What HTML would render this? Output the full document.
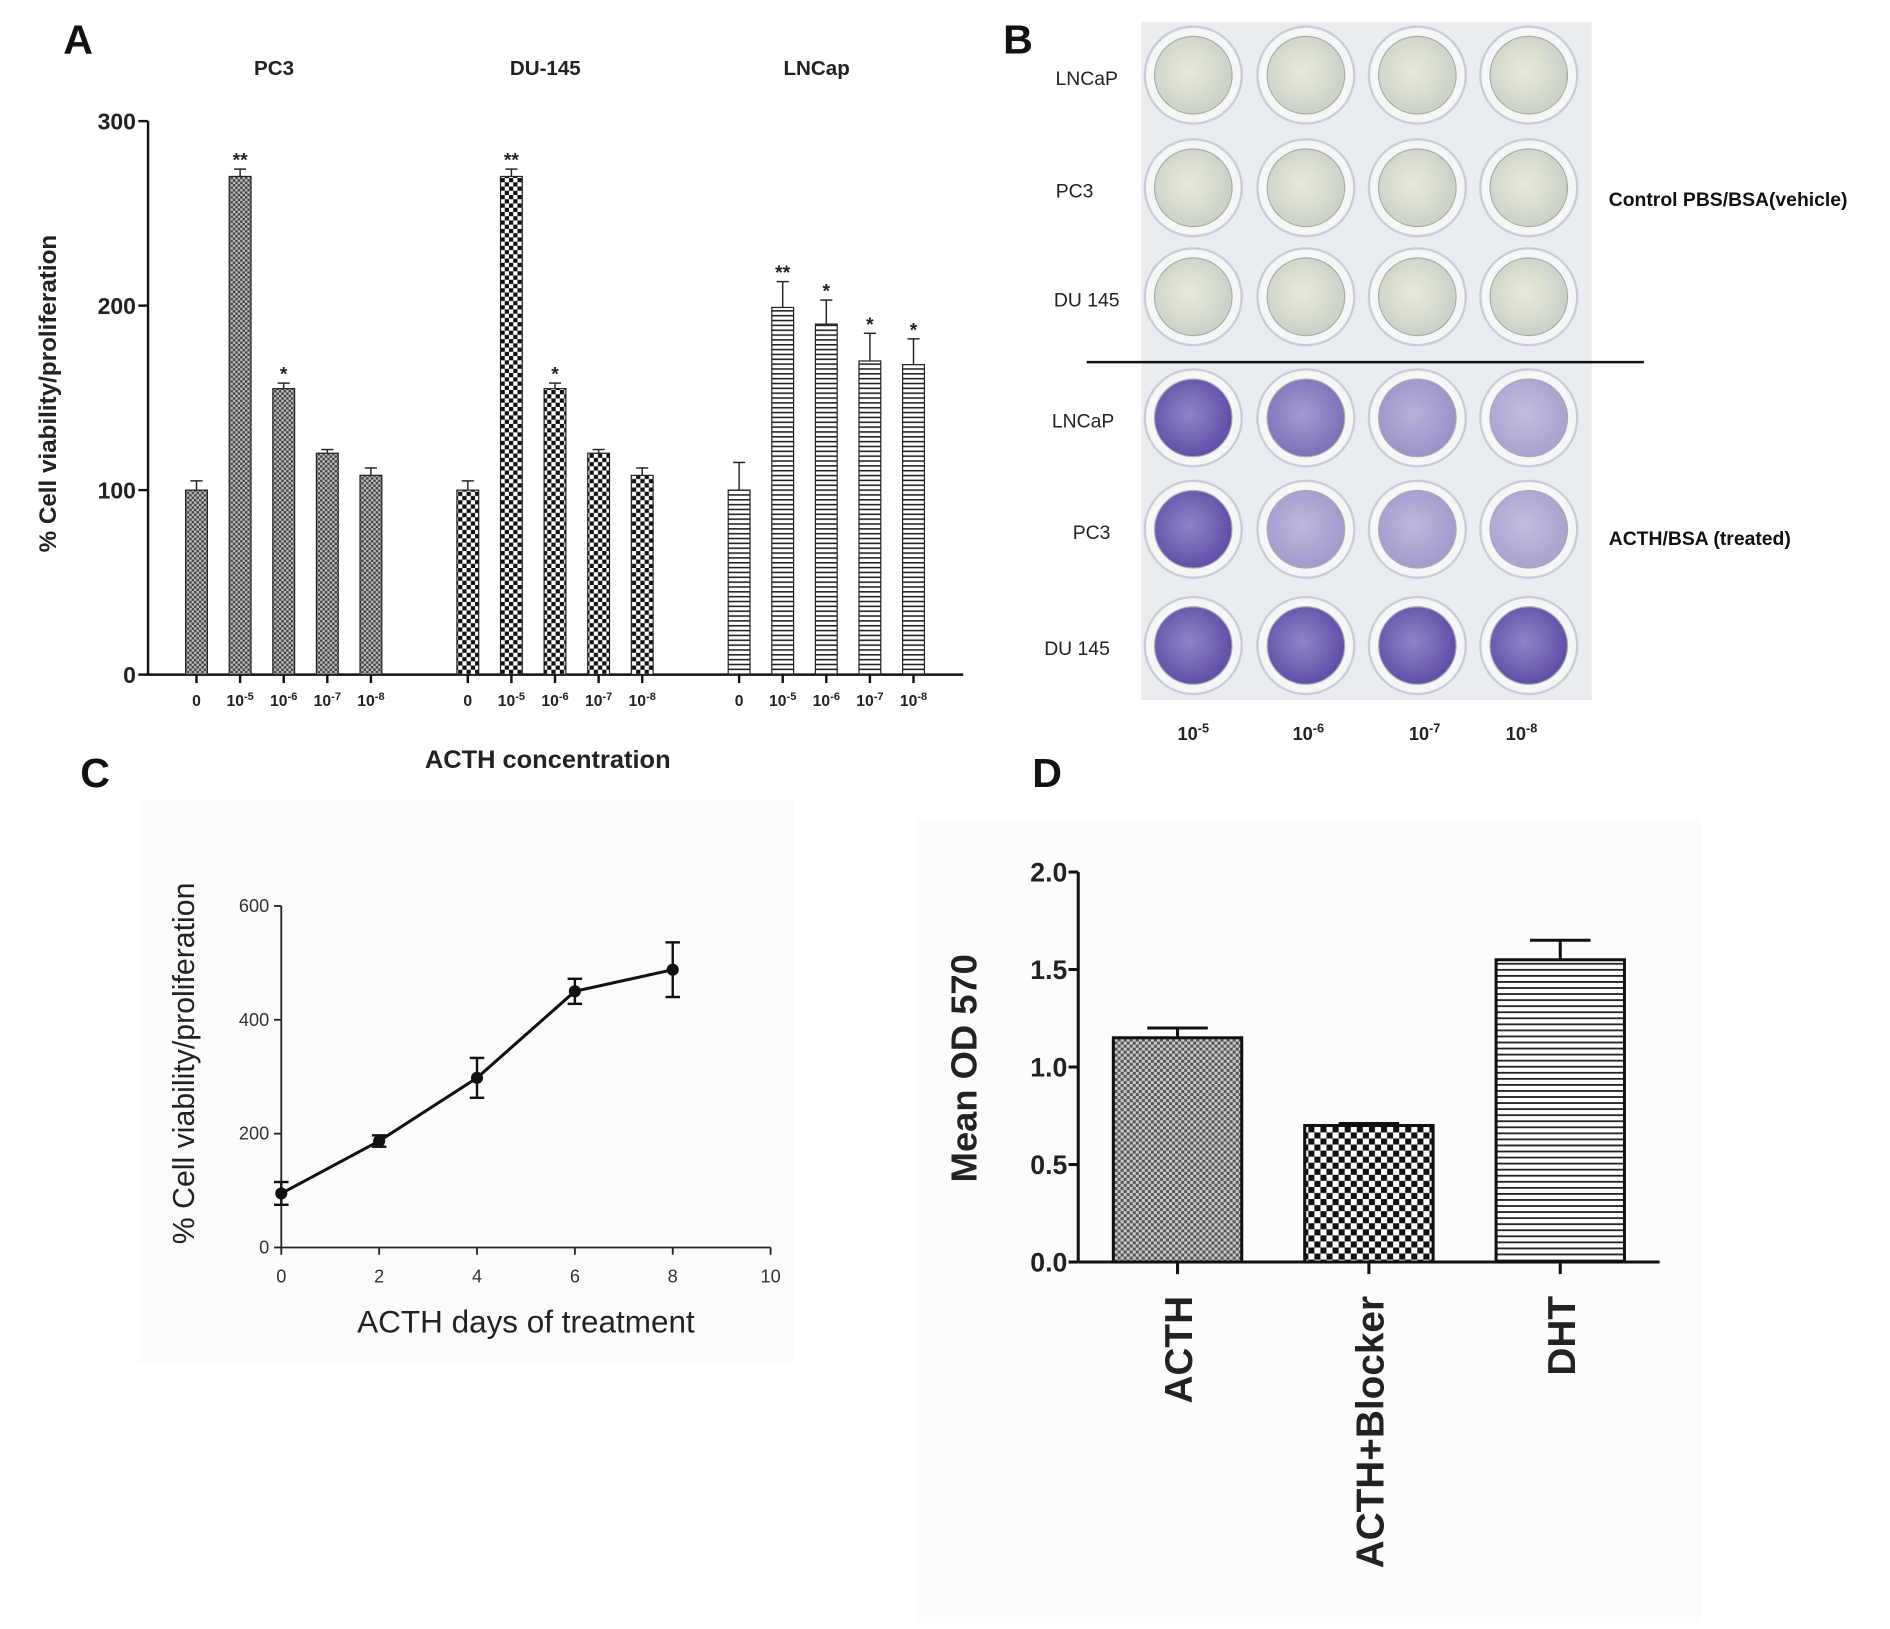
<!DOCTYPE html>
<html><head><meta charset="utf-8"><style>
html,body{margin:0;padding:0;background:#fff}
svg{display:block;font-family:"Liberation Sans",Arial,sans-serif}
</style></head><body>
<svg id="fig" width="1890" height="1629" viewBox="0 0 1560 1345" xmlns="http://www.w3.org/2000/svg">
<defs>
<pattern id="pFine" width="4" height="4" patternUnits="userSpaceOnUse"><rect width="4" height="4" fill="#bbb"/><rect width="2" height="2" fill="#444"/><rect x="2" y="2" width="2" height="2" fill="#444"/></pattern>
<pattern id="pCheck" width="7" height="7" patternUnits="userSpaceOnUse"><rect width="7" height="7" fill="#fff"/><rect width="3.5" height="3.5" fill="#111"/><rect x="3.5" y="3.5" width="3.5" height="3.5" fill="#111"/></pattern>
<pattern id="pHor" width="4" height="4" patternUnits="userSpaceOnUse"><rect width="4" height="4" fill="#fff"/><rect width="4" height="1.3" fill="#222"/></pattern>
<pattern id="pFineD" width="5" height="5" patternUnits="userSpaceOnUse"><rect width="5" height="5" fill="#ccc"/><rect width="2.5" height="2.5" fill="#555"/><rect x="2.5" y="2.5" width="2.5" height="2.5" fill="#555"/></pattern>
<pattern id="pCheckD" width="10" height="10" patternUnits="userSpaceOnUse"><rect width="10" height="10" fill="#fff"/><rect width="5" height="5" fill="#111"/><rect x="5" y="5" width="5" height="5" fill="#111"/></pattern>
<pattern id="pHorD" width="5" height="5" patternUnits="userSpaceOnUse"><rect width="5" height="5" fill="#fff"/><rect width="5" height="1.5" fill="#222"/></pattern>
<radialGradient id="gTop" cx="0.45" cy="0.45" r="0.6"><stop offset="0" stop-color="#e6eadc"/><stop offset="1" stop-color="#c9cfc3"/></radialGradient>
<radialGradient id="gPurp" cx="0.45" cy="0.45" r="0.6"><stop offset="0" stop-color="#8f84c8"/><stop offset="1" stop-color="#5d4aa5"/></radialGradient>
</defs>
<g font-weight="bold" font-size="34" fill="#111">
<text x="52" y="44">A</text>
<text x="828" y="44">B</text>
<text x="66" y="650">C</text>
<text x="852" y="650">D</text>
</g>
<rect x="115" y="660" width="540" height="465" fill="#fbfbfb"/>
<rect x="755" y="675" width="650" height="665" fill="#fcfcfc"/>
<g id="gA"></g>
<g id="gB"></g>
<g id="gC"></g>
<g id="gD"></g>
</svg>
<script>
// Panel A data
const aGroups = ["PC3","DU-145","LNCap"];
const aConc = ["0","10-5","10-6","10-7","10-8"];
const aPC3 = [100,270,155,120,108];
const aPC3Err = [5,4,3,2,4];
const aDU = [100,270,155,120,108];
const aDUErr = [5,4,3,2,4];
const aLN = [100,199,190,170,168];
const aLNErr = [15,14,13,15,14];
const aPC3Stars = ["","**","*","",""];
const aDUStars = ["","**","*","",""];
const aLNStars = ["","**","*","*","*"];
const aTicks = [0,100,200,300];
// Panel B
const bRows = ["LNCaP","PC3","DU 145","LNCaP","PC3","DU 145"];
const bCols = ["10-5","10-6","10-7","10-8"];
// Panel C data
const cDays = [0,2,4,6,8];
const cVals = [95,187,298,450,488];
const cErr = [20,10,35,22,48];
const cXTicks = [0,2,4,6,8,10];
const cYTicks = [0,200,400,600];
// Panel D data
const dCats = ["ACTH","ACTH+Blocker","DHT"];
const dVals = [1.15,0.70,1.55];
const dErr = [0.05,0.01,0.10];
const dTicks = [0,0.5,1.0,1.5,2.0];

const NS="http://www.w3.org/2000/svg";
function mk(parent,tag,attrs,text){const e=document.createElementNS(NS,tag);for(const k in attrs)e.setAttribute(k,attrs[k]);if(text!==undefined)e.textContent=text;parent.appendChild(e);return e;}
function powLabel(parent,x,y,lab,fs){
  const t=mk(parent,'text',{x:x,y:y,'text-anchor':'middle','font-size':fs,'font-weight':'bold',fill:'#222'});
  if(lab.indexOf('10')===0&&lab.length>2){mk(t,'tspan',{},'10');mk(t,'tspan',{dy:-fs*0.4,'font-size':fs*0.7},lab.slice(2));}
  else t.textContent=lab;
  return t;
}
// ---- Panel A
(function(){
  const g=document.getElementById('gA');
  const y0=557, y300=100, xL=122, xR=795;
  const ay=v=>y0-(v/300)*(y0-y300);
  const groupStart=[162,386,610], step=36, bw=18;
  const ax=(gi,i)=>groupStart[gi]+i*step;
  const sets=[[aPC3,aPC3Err,aPC3Stars,'url(#pFine)'],[aDU,aDUErr,aDUStars,'url(#pCheck)'],[aLN,aLNErr,aLNStars,'url(#pHor)']];
  let l=mk(g,'line',{x1:xL,y1:y300,x2:xL,y2:y0,stroke:'#111','stroke-width':2});
  
  l=mk(g,'line',{x1:xL,y1:y0,x2:xR,y2:y0,stroke:'#111','stroke-width':2});
  
  aTicks.forEach(v=>{
    mk(g,'line',{x1:xL-8,y1:ay(v),x2:xL,y2:ay(v),stroke:'#111','stroke-width':2});
    const t=mk(g,'text',{x:xL-10,y:ay(v)+7,'text-anchor':'end','font-size':19,'font-weight':'bold',fill:'#222'},String(v));
    
  });
  sets.forEach((s,gi)=>{
    const gl=mk(g,'text',{x:ax(gi,2)-8,y:62,'text-anchor':'middle','font-size':17,'font-weight':'bold',fill:'#222'},aGroups[gi]);
    
    s[0].forEach((v,i)=>{
      const x=ax(gi,i);
      const r=mk(g,'rect',{x:x-bw/2,y:ay(v),width:bw,height:y0-ay(v),fill:s[3],stroke:'#222','stroke-width':1});
      
      const ye=ay(v+s[1][i]);
      mk(g,'line',{x1:x,y1:ay(v),x2:x,y2:ye,stroke:'#222','stroke-width':1.2});
      mk(g,'line',{x1:x-5,y1:ye,x2:x+5,y2:ye,stroke:'#222','stroke-width':1.2});
      if(s[2][i]){const st=mk(g,'text',{x:x,y:ye-2,'text-anchor':'middle','font-size':16,'font-weight':'bold',fill:'#222'},s[2][i]);
        }
      mk(g,'line',{x1:x,y1:y0,x2:x,y2:y0+7,stroke:'#111','stroke-width':2});
      const tl=powLabel(g,x,583,aConc[i],13);
      
    });
  });
  let t=mk(g,'text',{x:452,y:634,'text-anchor':'middle','font-size':21,'font-weight':'bold',fill:'#222'},'ACTH concentration');
  
  t=mk(g,'text',{x:0,y:0,transform:'translate(46,325) rotate(-90)','text-anchor':'middle','font-size':20,'font-weight':'bold',fill:'#222'},'% Cell viability/proliferation');
  
})();
// ---- Panel B
(function(){
  const g=document.getElementById('gB');
  const r=mk(g,'rect',{x:942,y:18,width:372,height:560,fill:'#e9edf2'});
  
  const cx=[985,1078,1170,1262], cy=[62,155,245,345,437,533];
  const labX=[897,887,897,894,901,889];
  cy.forEach((y,ri)=>{
    const lab=mk(g,'text',{x:labX[ri],y:y+8,'text-anchor':'middle','font-size':16,fill:'#222'},bRows[ri]);
    
    cx.forEach((x,ci)=>{
      mk(g,'circle',{cx:x,cy:y,r:40,fill:'#f4f6f8',stroke:'#c9ced6','stroke-width':2});
      let fill, op=1;
      if(ri<3){fill='url(#gTop)';}
      else{fill='url(#gPurp)'; if(ri===3)op=[1,0.8,0.6,0.5][ci]; if(ri===4)op=[1,0.55,0.55,0.5][ci];}
      const w=mk(g,'circle',{cx:x,cy:y,r:32,fill:fill,'fill-opacity':op,stroke:'#aaa','stroke-width':1});
      
    });
  });
  const ln=mk(g,'line',{x1:897,y1:299,x2:1357,y2:299,stroke:'#111','stroke-width':2});
  
  let t=mk(g,'text',{x:1328,y:170,'font-size':16,'font-weight':'bold',fill:'#111'},'Control PBS/BSA(vehicle)');
  
  t=mk(g,'text',{x:1328,y:450,'font-size':16,'font-weight':'bold',fill:'#111'},'ACTH/BSA (treated)');
  
  bCols.forEach((c,i)=>{const tl=powLabel(g,[985,1080,1176,1256][i],611,c,15);
    });
})();
// ---- Panel C
(function(){
  const g=document.getElementById('gC');
  const x0=232,x10=636,y0=1030,y600=748;
  const cx=d=>x0+d/10*(x10-x0), cy=v=>y0-v/600*(y0-y600);
  mk(g,'line',{x1:x0,y1:y600,x2:x0,y2:y0,stroke:'#222','stroke-width':1.5});
  mk(g,'line',{x1:x0,y1:y0,x2:x10,y2:y0,stroke:'#222','stroke-width':1.5});
  cYTicks.forEach(v=>{mk(g,'line',{x1:x0-6,y1:cy(v),x2:x0,y2:cy(v),stroke:'#222','stroke-width':1.5});
    const t=mk(g,'text',{x:x0-10,y:cy(v)+5,'text-anchor':'end','font-size':15,fill:'#333'},String(v));
    });
  cXTicks.forEach(v=>{mk(g,'line',{x1:cx(v),y1:y0,x2:cx(v),y2:y0+6,stroke:'#222','stroke-width':1.5});
    const t=mk(g,'text',{x:cx(v),y:y0+29,'text-anchor':'middle','font-size':15,fill:'#333'},String(v));
    });
  const pl=mk(g,'polyline',{points:cDays.map((d,i)=>cx(d)+','+cy(cVals[i])).join(' '),fill:'none',stroke:'#111','stroke-width':2.5});
  
  cDays.forEach((d,i)=>{
    const x=cx(d),yt=cy(cVals[i]+cErr[i]),yb=cy(cVals[i]-cErr[i]);
    mk(g,'line',{x1:x,y1:yt,x2:x,y2:yb,stroke:'#111','stroke-width':2});
    mk(g,'line',{x1:x-6,y1:yt,x2:x+6,y2:yt,stroke:'#111','stroke-width':2});
    mk(g,'line',{x1:x-6,y1:yb,x2:x+6,y2:yb,stroke:'#111','stroke-width':2});
    const p=mk(g,'circle',{cx:x,cy:cy(cVals[i]),r:5,fill:'#111'});
    
  });
  let t=mk(g,'text',{x:434,y:1100,'text-anchor':'middle','font-size':26,fill:'#222'},'ACTH days of treatment');
  
  t=mk(g,'text',{x:0,y:0,transform:'translate(160,878) rotate(-90)','text-anchor':'middle','font-size':25,fill:'#222'},'% Cell viability/proliferation');
  
})();
// ---- Panel D
(function(){
  const g=document.getElementById('gD');
  const xL=890,xR=1370,y0=1042,y2=720;
  const dy=v=>y0-v/2*(y0-y2);
  const centers=[972,1130,1288], bw=106;
  const fills=['url(#pFineD)','url(#pCheckD)','url(#pHorD)'];
  mk(g,'line',{x1:xL,y1:y2,x2:xL,y2:y0,stroke:'#111','stroke-width':2.5});
  mk(g,'line',{x1:xL,y1:y0,x2:xR,y2:y0,stroke:'#111','stroke-width':2.5});
  dTicks.forEach(v=>{mk(g,'line',{x1:xL-8,y1:dy(v),x2:xL,y2:dy(v),stroke:'#111','stroke-width':2.5});
    const t=mk(g,'text',{x:xL-9,y:dy(v)+8,'text-anchor':'end','font-size':22,'font-weight':'bold',fill:'#222'},v.toFixed(1));
    });
  dCats.forEach((c,i)=>{
    const x=centers[i],v=dVals[i];
    const r=mk(g,'rect',{x:x-bw/2,y:dy(v),width:bw,height:y0-dy(v),fill:fills[i],stroke:'#111','stroke-width':2.5});
    
    const ye=dy(v+dErr[i]);
    mk(g,'line',{x1:x,y1:dy(v),x2:x,y2:ye,stroke:'#111','stroke-width':2.5});
    mk(g,'line',{x1:x-25,y1:ye,x2:x+25,y2:ye,stroke:'#111','stroke-width':2.5});
    mk(g,'line',{x1:x,y1:y0,x2:x,y2:y0+10,stroke:'#111','stroke-width':2.5});
    const t=mk(g,'text',{x:0,y:0,transform:'translate('+(x+12)+','+(y0+28)+') rotate(-90)','text-anchor':'end','font-size':32,'font-weight':'bold',fill:'#222'},c);
    
  });
  const t=mk(g,'text',{x:0,y:0,transform:'translate(806,882) rotate(-90)','text-anchor':'middle','font-size':30,'font-weight':'bold',fill:'#222'},'Mean OD 570');
  
})();
</script>
</body></html>
